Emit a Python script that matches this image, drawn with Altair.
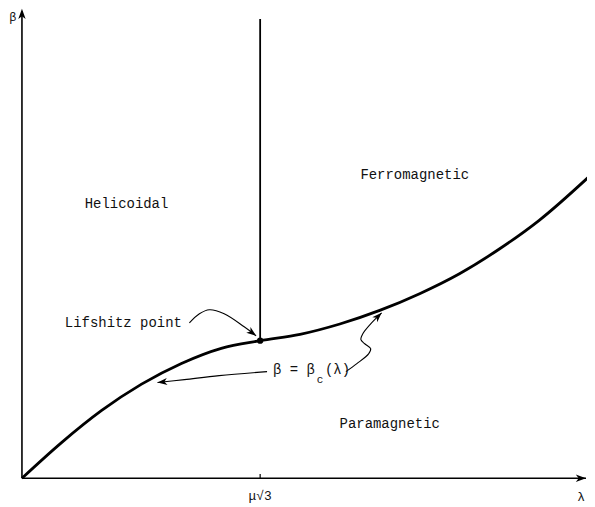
import altair as alt
import pandas as pd

# ---- data (lambda in units of mu*sqrt(3), beta in units of beta at the Lifshitz point)
X_MAX = 2.368
Y_MAX = 3.413

curve_lam = [0.0, 0.1674, 0.3347, 0.5021, 0.6695, 0.8368, 1.0,
             1.1674, 1.3347, 1.5021, 1.6695, 1.8368, 2.0042, 2.1715, 2.3891]
curve_beta = [0.0, 0.2609, 0.4928, 0.6841, 0.8348, 0.9449, 1.0,
              1.0464, 1.1217, 1.2203, 1.3420, 1.4870, 1.6667, 1.8754, 2.2065]

lifshitz_lam = [1.0]
lifshitz_beta = [1.0]
boundary_top = 3.34

# annotation arrows (curved leader lines)
lead_lif_lam = [0.703, 0.745, 0.787, 0.849, 0.933, 0.983]
lead_lif_beta = [1.130, 1.196, 1.225, 1.196, 1.101, 1.036]
lead_bc1_lam = [1.029, 0.828, 0.682, 0.569]
lead_bc1_beta = [0.775, 0.746, 0.717, 0.696]
lead_bc2_lam = [1.360, 1.406, 1.456, 1.464, 1.439, 1.423, 1.431, 1.464, 1.510]
lead_bc2_beta = [0.775, 0.833, 0.906, 0.942, 0.978, 1.007, 1.051, 1.123, 1.203]

# arrow heads: tip position and direction (deg, clockwise from up)
head_lam = [0.0, X_MAX, 0.983, 0.569, 1.510]
head_beta = [Y_MAX, 0.0, 1.036, 0.696, 1.203]
head_angle = [0, 90, 127, 264, 45]

# text labels
label_text = ["Helicoidal", "Ferromagnetic", "Paramagnetic"]
label_lam = [0.439, 1.649, 1.544]
label_beta = [1.993, 2.203, 0.391]

FONT = "Liberation Mono"
ARROW = "M0,0 L0.36,1 L0,0.72 L-0.36,1 Z"

xs = alt.Scale(domain=[0, X_MAX], nice=False, zero=False)
ys = alt.Scale(domain=[0, Y_MAX], nice=False, zero=False)


def X(f="x"):
    return alt.X(f"{f}:Q", scale=xs, axis=None)


def Y(f="y"):
    return alt.Y(f"{f}:Q", scale=ys, axis=None)


# axes
axes_df = pd.DataFrame({"x": [0.0, 0.0], "y": [0.0, 0.0], "x2": [0.0, X_MAX], "y2": [Y_MAX - 0.02, 0.0]})
axes = alt.Chart(axes_df).mark_rule(color="black", strokeWidth=1.6).encode(
    x=X(), y=Y(), x2="x2:Q", y2="y2:Q"
)

tick_df = pd.DataFrame({"x": [1.0], "y": [0.0], "y2": [0.03]})
tick = alt.Chart(tick_df).mark_rule(color="black", strokeWidth=1.2).encode(x=X(), y=Y(), y2="y2:Q")

heads_df = pd.DataFrame({"x": head_lam, "y": head_beta, "a": head_angle,
                         "s": [420, 420, 380, 380, 380]})
heads = alt.Chart(heads_df).mark_point(shape=ARROW, filled=True, color="black", opacity=1, strokeWidth=0).encode(
    x=X(), y=Y(), angle=alt.Angle("a:Q", scale=None), size=alt.Size("s:Q", scale=None)
)

curve_df = pd.DataFrame({"x": curve_lam, "y": curve_beta})
curve = alt.Chart(curve_df).mark_line(color="black", strokeWidth=2.8, interpolate="monotone").encode(x=X(), y=Y())

bound_df = pd.DataFrame({"x": lifshitz_lam, "y": lifshitz_beta, "y2": [boundary_top]})
bound = alt.Chart(bound_df).mark_rule(color="black", strokeWidth=1.8).encode(x=X(), y=Y(), y2="y2:Q")

dot = alt.Chart(pd.DataFrame({"x": lifshitz_lam, "y": lifshitz_beta})).mark_circle(
    color="black", size=40, opacity=1
).encode(x=X(), y=Y())

rows = []
for g, (lx, ly) in enumerate([(lead_lif_lam, lead_lif_beta), (lead_bc1_lam, lead_bc1_beta), (lead_bc2_lam, lead_bc2_beta)]):
    for i, (a, b) in enumerate(zip(lx, ly)):
        rows.append({"g": g, "o": i, "x": a, "y": b})
lead_df = pd.DataFrame(rows)
leads = alt.Chart(lead_df).mark_line(color="black", strokeWidth=1.1, interpolate="catmull-rom").encode(
    x=X(), y=Y(), detail="g:N", order="o:Q"
)

labels = alt.Chart(pd.DataFrame({"x": label_lam, "y": label_beta, "t": label_text})).mark_text(
    font=FONT, fontSize=14, color="#111", align="center", baseline="middle"
).encode(x=X(), y=Y(), text="t:N")

lif_label = alt.Chart(pd.DataFrame({"x": [0.180], "y": [1.130], "t": ["Lifshitz point"]})).mark_text(
    font=FONT, fontSize=14, color="#111", align="left", baseline="middle"
).encode(x=X(), y=Y(), text="t:N")

bc_df = pd.DataFrame({"x": [1.054, 1.238, 1.272], "y": [0.790, 0.717, 0.790],
                      "t": ["\u03b2 = \u03b2", "c", "(\u03bb)"], "fs": [14, 11, 14]})
bc_label = alt.Chart(bc_df).mark_text(font=FONT, color="#111", align="left", baseline="middle").encode(
    x=X(), y=Y(), text="t:N", size=alt.Size("fs:Q", scale=None)
)

ax_df = pd.DataFrame({"x": [1.0, 2.347, -0.038], "y": [-0.130, -0.135, 3.355],
                      "t": ["\u03bc\u221a3", "\u03bb", "\u03b2"], "fs": [13, 13, 12]})
ax_labels = alt.Chart(ax_df).mark_text(font=FONT, color="#111", align="center", baseline="middle").encode(
    x=X(), y=Y(), text="t:N", size=alt.Size("fs:Q", scale=None)
)

chart = alt.layer(
    axes, tick, curve, bound, dot, leads, heads, labels, lif_label, bc_label, ax_labels
).properties(
    width=566, height=471,
    padding={"left": 14, "top": 0, "right": 1, "bottom": 26},
    autosize="none",
    background="white",
).configure_view(stroke=None)

chart.save("out.html", embed_options={"renderer": "svg", "actions": False})
